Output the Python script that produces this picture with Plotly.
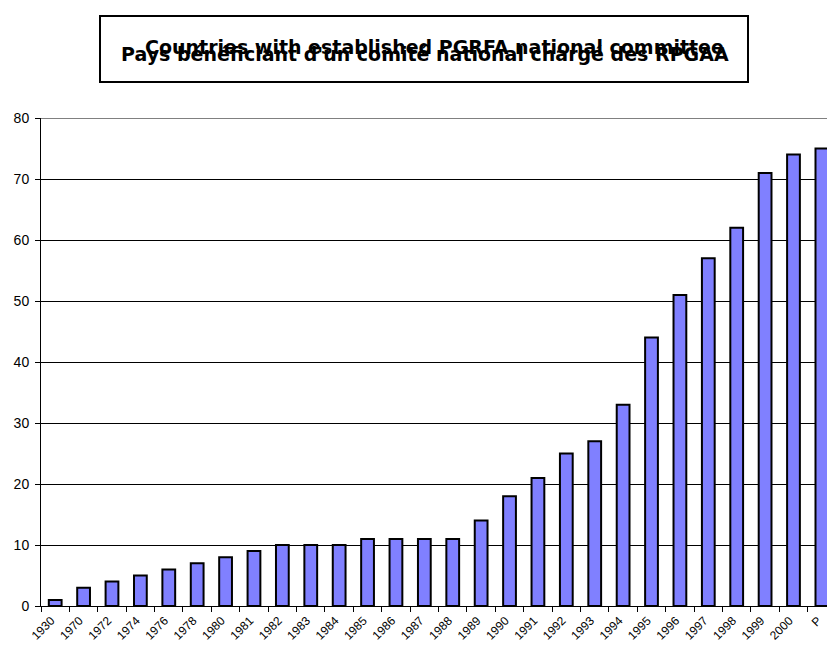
import plotly.graph_objects as go

categories = ["1930", "1970", "1972", "1974", "1976", "1978", "1980", "1981", "1982", "1983",
              "1984", "1985", "1986", "1987", "1988", "1989", "1990", "1991", "1992", "1993",
              "1994", "1995", "1996", "1997", "1998", "1999", "2000", "P"]
values = [1, 3, 4, 5, 6, 7, 8, 9, 10, 10,
          10, 11, 11, 11, 11, 14, 18, 21, 25, 27,
          33, 44, 51, 57, 62, 71, 74, 75]
title_en = "Countries with established PGRFA national committee"
title_fr = "Pays bénéficiant d'un comité national chargé des RPGAA"
y_ticks = [0, 10, 20, 30, 40, 50, 60, 70, 80]

W, H = 827, 645
L, T, B, R = 41, 118, 39, 0
pw, ph = W - L - R, H - T - B

def px(x):
    return (x - L) / pw

def py(y):
    return (H - B - y) / ph

fig = go.Figure(go.Bar(
    x=categories, y=values,
    marker=dict(color="#8080FF", line=dict(color="black", width=2)),
))

fig.update_layout(
    width=W, height=H,
    margin=dict(l=L, r=R, t=T, b=B, autoexpand=False),
    paper_bgcolor="white", plot_bgcolor="white",
    bargap=0.55,
    showlegend=False,
    font=dict(family="Liberation Sans, Arial, sans-serif", color="black"),
    shapes=[
        dict(type="rect", xref="paper", yref="paper",
             x0=px(100), x1=px(748), y0=py(82), y1=py(16),
             line=dict(color="black", width=2), fillcolor="white", layer="above"),
        dict(type="line", xref="paper", yref="y", x0=0, x1=1, y0=80, y1=80,
             line=dict(color="#808080", width=2), layer="below"),
    ],
    annotations=[
        dict(text="<b>" + title_en + "</b>", xref="paper", yref="paper",
             x=px(434), y=py(47), xanchor="center", yanchor="middle",
             showarrow=False,
             font=dict(size=19, color="black", family="DejaVu Sans, sans-serif")),
        dict(text="<b>" + title_fr + "</b>", xref="paper", yref="paper",
             x=px(425), y=py(54), xanchor="center", yanchor="middle",
             showarrow=False,
             font=dict(size=19, color="black", family="DejaVu Sans, sans-serif")),
    ],
)

fig.update_xaxes(
    type="category", categoryorder="array", categoryarray=categories,
    range=[-0.5, 27.18], automargin=False,
    tickangle=-45, tickfont=dict(size=12), ticklabeloverflow="allow",
    ticklabelshift=-4, ticklabelstandoff=2,
    showline=True, linecolor="black", linewidth=1,
    ticks="outside", ticklen=5, tickcolor="black", tickson="boundaries",
    showgrid=False, zeroline=False,
)
fig.update_yaxes(
    range=[0, 80], tickvals=y_ticks, tickfont=dict(size=14), automargin=False,
    showline=True, linecolor="black", linewidth=1,
    ticks="outside", ticklen=5, tickcolor="black", ticklabelstandoff=3,
    showgrid=True, gridcolor="black", gridwidth=1,
    zeroline=False,
)

fig.write_html("out.html", config={"displayModeBar": False},
               post_script="document.body.style.margin='0';document.body.style.overflow='hidden';")
